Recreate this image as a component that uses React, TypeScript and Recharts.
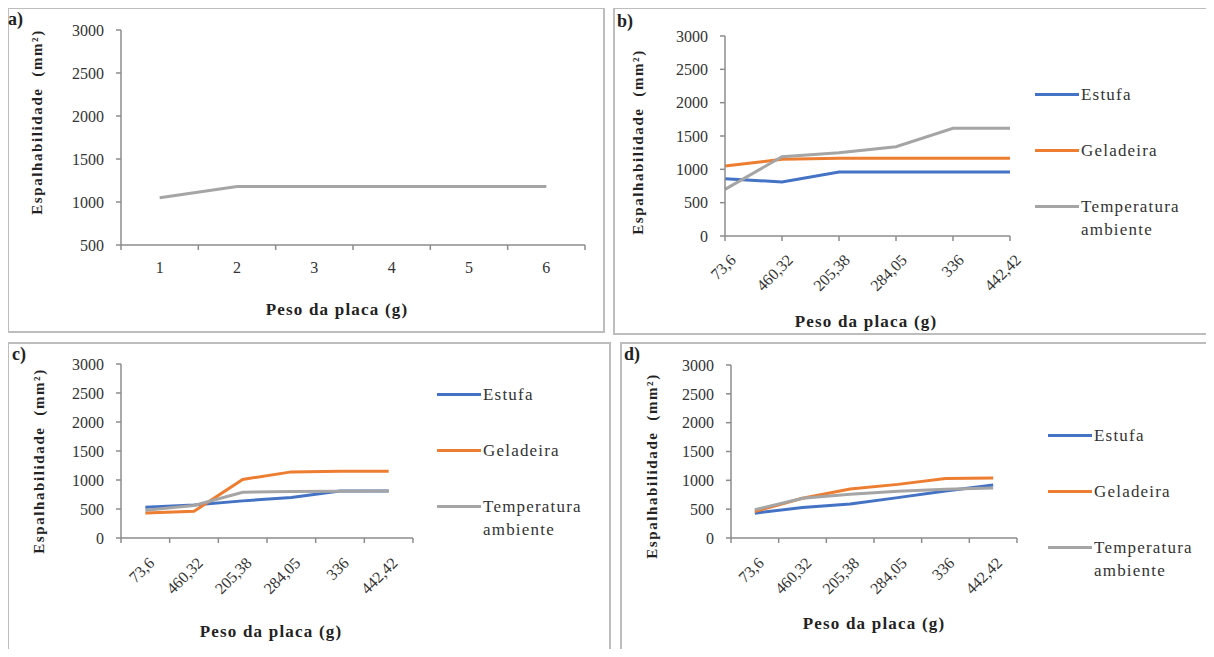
import React from "react";
import { Line, LineChart, XAxis, YAxis } from "recharts";

// panel a: one series, plates numbered 1..6
const platesA = ["1", "2", "3", "4", "5", "6"];
const ambienteA = [1050, 1180, 1180, 1180, 1180, 1180];

// panels b, c, d share the plate weights
const weights = ["73,6", "460,32", "205,38", "284,05", "336", "442,42"];

const estufaB = [860, 810, 960, 960, 960, 960];
const geladeiraB = [1050, 1150, 1165, 1165, 1165, 1165];
const ambienteB = [700, 1190, 1250, 1340, 1615, 1615];

const estufaC = [530, 570, 640, 700, 810, 810];
const geladeiraC = [430, 460, 1010, 1140, 1150, 1150];
const ambienteC = [480, 560, 790, 800, 805, 810];

const estufaD = [430, 530, 590, 700, 815, 920];
const geladeiraD = [460, 690, 850, 930, 1030, 1040];
const ambienteD = [490, 690, 760, 810, 845, 865];

const seriesNames = ["Estufa", "Geladeira", "Temperatura ambiente"];
const ticksA = [500, 1000, 1500, 2000, 2500, 3000];
const ticksFull = [0, 500, 1000, 1500, 2000, 2500, 3000];

const FONT =
  '"Times New Roman", Times, "Liberation Serif", "Nimbus Roman", "DejaVu Serif", "Noto Serif", serif';
const AXIS = "#8c8c8c";
const TEXT = "#333333";
const BLUE = "#4472C4";
const ORANGE = "#ED7D31";
const GRAY = "#A5A5A5";
const seriesColors = [BLUE, ORANGE, GRAY];

const xTitle = "Peso da placa (g)";
const yTitle = "Espalhabilidade  (mm²)";

function rows(cats: string[], e: number[], g: number[], t: number[]) {
  return cats.map((c, i) => ({ peso: c, estufa: e[i], geladeira: g[i], ambiente: t[i] }));
}

function makeTick(band: number, rotated: boolean, shift: [number, number]) {
  return (props: any) => {
    const { x, y, payload, index, visibleTicksCount } = props;
    const edges =
      band > 0
        ? index === visibleTicksCount - 1
          ? [x - band / 2, x + band / 2]
          : [x - band / 2]
        : [x];
    const tx = x + shift[0];
    const ty = y + shift[1];
    return (
      <g>
        {edges.map((ex, i) => (
          <line key={i} x1={ex} x2={ex} y1={y} y2={y + 5} stroke={AXIS} strokeWidth={1.5} />
        ))}
        {rotated ? (
          <text
            x={tx}
            y={ty}
            textAnchor="end"
            transform={`rotate(-45, ${tx}, ${ty})`}
            fontSize={16}
            fontFamily={FONT}
            fill={TEXT}
          >
            {payload.value}
          </text>
        ) : (
          <text x={x} y={y + 28} textAnchor="middle" fontSize={16} fontFamily={FONT} fill={TEXT}>
            {payload.value}
          </text>
        )}
      </g>
    );
  };
}

function LegendRows({ left, top }: { left: number; top: number }) {
  return (
    <div
      style={{
        position: "absolute",
        left,
        top,
        fontFamily: FONT,
        fontSize: 17,
        letterSpacing: 1.2,
        color: TEXT,
      }}
    >
      {seriesNames.map((name, i) => (
        <div
          key={name}
          style={{ display: "flex", alignItems: "flex-start", lineHeight: "23px", marginBottom: 33 }}
        >
          <span
            style={{
              display: "inline-block",
              width: 44,
              height: 3,
              marginTop: 10,
              marginRight: 2,
              background: seriesColors[i],
            }}
          />
          <span style={{ width: 120, whiteSpace: "normal" }}>{name}</span>
        </div>
      ))}
    </div>
  );
}

type PanelProps = {
  left: number;
  top: number;
  width: number;
  height: number;
  tag: string;
  tagPos: [number, number];
  data: any[];
  threeSeries: boolean;
  margin: { top: number; right: number };
  yWidth: number;
  xHeight: number;
  band: number;
  rotated: boolean;
  shift: [number, number];
  yDomain: [number, number];
  yTicks: number[];
  legendPos?: [number, number];
  yTitlePos: [number, number];
  xTitlePos: [number, number];
};

function Panel(p: PanelProps) {
  const pad = p.band / 2;
  return (
    <div style={{ position: "absolute", left: p.left, top: p.top, width: p.width, height: p.height }}>
      <div
        style={{
          position: "absolute",
          inset: 0,
          border: "2px solid #bdbdbd",
          boxSizing: "border-box",
        }}
      />
      <LineChart
        width={p.width}
        height={p.height}
        data={p.data}
        margin={{ top: p.margin.top, right: p.margin.right, left: 0, bottom: 0 }}
        style={{ position: "absolute", left: 0, top: 0 }}
      >
        <XAxis
          dataKey="peso"
          height={p.xHeight}
          interval={0}
          padding={{ left: pad, right: pad }}
          axisLine={{ stroke: AXIS, strokeWidth: 1.5 }}
          tickLine={false}
          tickSize={0}
          tickMargin={0}
          tick={makeTick(p.band, p.rotated, p.shift)}
        />
        <YAxis
          width={p.yWidth}
          domain={p.yDomain}
          ticks={p.yTicks}
          interval={0}
          axisLine={{ stroke: AXIS, strokeWidth: 1.5 }}
          tickLine={{ stroke: AXIS, strokeWidth: 1.5 }}
          tickSize={5}
          tickMargin={12}
          tick={{ fontSize: 16, fontFamily: FONT, fill: TEXT }}
        />
        {p.threeSeries && (
          <Line
            name="Estufa"
            dataKey="estufa"
            stroke={BLUE}
            strokeWidth={3}
            dot={false}
            type="linear"
            isAnimationActive={false}
          />
        )}
        {p.threeSeries && (
          <Line
            name="Geladeira"
            dataKey="geladeira"
            stroke={ORANGE}
            strokeWidth={3}
            dot={false}
            type="linear"
            isAnimationActive={false}
          />
        )}
        <Line
          name="Temperatura ambiente"
          dataKey="ambiente"
          stroke={GRAY}
          strokeWidth={3}
          dot={false}
          type="linear"
          isAnimationActive={false}
        />
      </LineChart>
      {p.legendPos && <LegendRows left={p.legendPos[0]} top={p.legendPos[1]} />}
      <div
        style={{
          position: "absolute",
          left: p.tagPos[0],
          top: p.tagPos[1],
          fontFamily: FONT,
          fontWeight: "bold",
          fontSize: 18,
          lineHeight: "18px",
          color: "#222",
        }}
      >
        {p.tag}
      </div>
      <div
        style={{
          position: "absolute",
          left: p.yTitlePos[0],
          top: p.yTitlePos[1],
          transform: "translate(-50%, -50%) rotate(-90deg)",
          whiteSpace: "pre",
          fontFamily: FONT,
          fontWeight: "bold",
          fontSize: 15,
          letterSpacing: 1.6,
          color: "#222",
        }}
      >
        {yTitle}
      </div>
      <div
        style={{
          position: "absolute",
          left: p.xTitlePos[0],
          top: p.xTitlePos[1],
          transform: "translate(-50%, -50%)",
          whiteSpace: "pre",
          fontFamily: FONT,
          fontWeight: "bold",
          fontSize: 17,
          letterSpacing: 1.2,
          color: "#222",
        }}
      >
        {xTitle}
      </div>
    </div>
  );
}

export default function App() {
  const dataA = platesA.map((c, i) => ({ peso: c, ambiente: ambienteA[i] }));
  const dataB = rows(weights, estufaB, geladeiraB, ambienteB);
  const dataC = rows(weights, estufaC, geladeiraC, ambienteC);
  const dataD = rows(weights, estufaD, geladeiraD, ambienteD);

  return (
    <div
      style={{
        position: "relative",
        width: 1214,
        height: 657,
        margin: -8,
        background: "#fff",
        overflow: "hidden",
      }}
    >
      <Panel
        left={7}
        top={7}
        width={598}
        height={326}
        tag="a)"
        tagPos={[1, 3]}
        data={dataA}
        threeSeries={false}
        margin={{ top: 23, right: 20 }}
        yWidth={114}
        xHeight={88}
        band={464 / 6}
        rotated={false}
        shift={[0, 0]}
        yDomain={[500, 3000]}
        yTicks={ticksA}
        yTitlePos={[30, 115]}
        xTitlePos={[330, 303]}
      />
      <Panel
        left={613}
        top={7}
        width={601}
        height={328}
        tag="b)"
        tagPos={[4, 5]}
        data={dataB}
        threeSeries
        margin={{ top: 29, right: 204 }}
        yWidth={112}
        xHeight={99}
        band={0}
        rotated
        shift={[12, 25]}
        yDomain={[0, 3000]}
        yTicks={ticksFull}
        legendPos={[422, 76]}
        yTitlePos={[25, 135]}
        xTitlePos={[253, 315]}
      />
      <Panel
        left={7}
        top={342}
        width={604}
        height={315}
        tag="c)"
        tagPos={[5, 3]}
        data={dataC}
        threeSeries
        margin={{ top: 22, right: 198 }}
        yWidth={114}
        xHeight={119}
        band={292 / 6}
        rotated
        shift={[10, 26]}
        yDomain={[0, 3000]}
        yTicks={ticksFull}
        legendPos={[430, 41]}
        yTitlePos={[32, 119]}
        xTitlePos={[264, 290]}
      />
      <Panel
        left={620}
        top={342}
        width={594}
        height={314}
        tag="d)"
        tagPos={[4, 3]}
        data={dataD}
        threeSeries
        margin={{ top: 23, right: 197 }}
        yWidth={111}
        xHeight={118}
        band={286 / 6}
        rotated
        shift={[10, 26]}
        yDomain={[0, 3000]}
        yTicks={ticksFull}
        legendPos={[428, 82]}
        yTitlePos={[32, 124]}
        xTitlePos={[254, 282]}
      />
    </div>
  );
}
